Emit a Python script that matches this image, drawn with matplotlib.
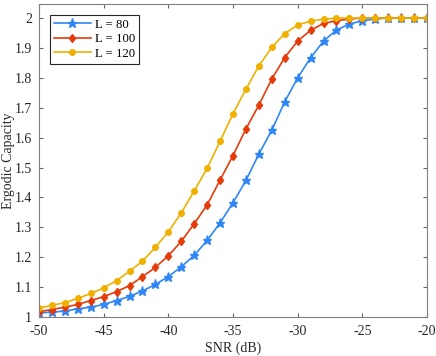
import numpy as np
import matplotlib
matplotlib.use('Agg')
import matplotlib.pyplot as plt

plt.rcParams['font.family'] = ['Liberation Serif', 'DejaVu Serif']
plt.rcParams['axes.unicode_minus'] = False

# SNR axis and capacity curves
snr = list(range(-50, -19))
cap_80 = [1.014, 1.016, 1.020, 1.027, 1.033, 1.042, 1.055, 1.069, 1.087, 1.109,
          1.135, 1.168, 1.206, 1.256, 1.315, 1.382, 1.457, 1.545, 1.625, 1.720,
          1.800, 1.867, 1.923, 1.960, 1.980, 1.991, 1.997, 2.0, 2.0, 2.0, 2.0]
cap_100 = [1.018, 1.025, 1.033, 1.042, 1.055, 1.068, 1.085, 1.105, 1.135, 1.166,
           1.205, 1.253, 1.312, 1.375, 1.458, 1.540, 1.629, 1.709, 1.796, 1.868,
           1.923, 1.959, 1.982, 1.991, 1.997, 2.0, 2.0, 2.0, 2.0, 2.0, 2.0]
cap_120 = [1.030, 1.039, 1.048, 1.062, 1.079, 1.097, 1.122, 1.153, 1.187, 1.233,
           1.285, 1.348, 1.422, 1.497, 1.588, 1.680, 1.762, 1.840, 1.902, 1.948,
           1.977, 1.990, 1.996, 2.0, 2.0, 2.0, 2.0, 2.0, 2.0, 2.0, 2.0]
labels = ['L = 80', 'L = 100', 'L = 120']

fig = plt.figure(figsize=(4.36, 3.56), dpi=100)
ax = fig.add_axes([39 / 436, 1 - 317 / 356, 388 / 436, 313 / 356])

ax.plot(snr, cap_80, color='#2f87f5', marker='*', markersize=6.5, lw=1.2, label=labels[0])
ax.plot(snr, cap_100, color='#e53b0a', marker='d', markersize=4.5, lw=1.2, label=labels[1])
ax.plot(snr, cap_120, color='#f0b000', marker='o', markersize=4, lw=1.2, label=labels[2])

ax.set_xlim(-50, -20)
ax.set_ylim(1, 2.047)
ax.set_xticks(range(-50, -19, 5))
ax.set_yticks(np.arange(1, 2.01, 0.1))
ax.set_yticklabels(['1', '1.1', '1.2', '1.3', '1.4', '1.5', '1.6', '1.7', '1.8', '1.9', '2'])
ax.tick_params(direction='in', labelsize=10, color='#666666', top=True, right=True,
               length=3, labelcolor='#262626')
ax.tick_params(axis='x', pad=6)
ax.tick_params(axis='y', pad=5)
for s in ax.spines.values():
    s.set_color('#808080')
    s.set_linewidth(0.8)

ax.set_xlabel('SNR (dB)', fontsize=10, color='#262626')
ax.set_ylabel('Ergodic Capacity', fontsize=10, color='#262626')
ax.xaxis.set_label_coords(0.5, -0.077)
ax.yaxis.set_label_coords(-0.062, 0.5)

leg = ax.legend(loc='upper left', fontsize=9.2, fancybox=False, framealpha=1,
                edgecolor='#262626', bbox_to_anchor=(11 / 388, 1 - 11 / 313),
                borderaxespad=0, handlelength=2.9, handletextpad=0.3,
                borderpad=0.3, labelspacing=0.2)
leg.get_frame().set_linewidth(0.8)

plt.savefig('out.png', dpi=100)
